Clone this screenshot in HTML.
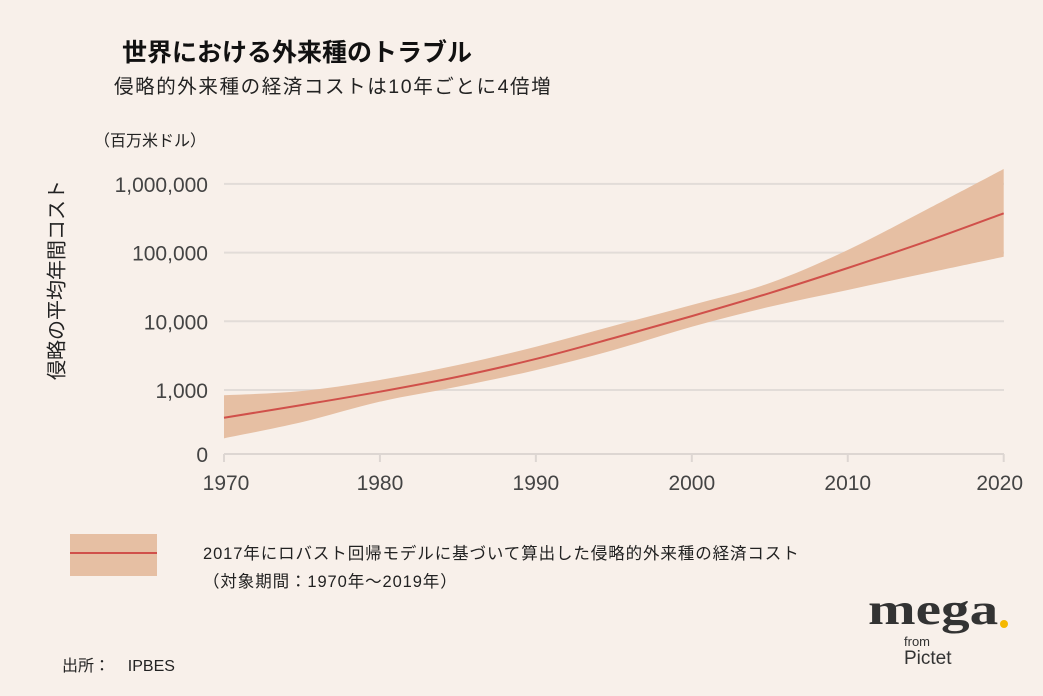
<!DOCTYPE html>
<html><head><meta charset="utf-8">
<style>
html,body{margin:0;padding:0;background:#f8f0ea;}
body{width:1043px;height:696px;position:relative;overflow:hidden;font-family:"Liberation Sans","Noto Sans CJK JP",sans-serif;color:#222;}
.t{position:absolute;white-space:nowrap;}
</style></head><body>
<div class="t" style="left:122px;top:33px;font-size:25px;font-weight:bold;color:#111;">世界における外来種のトラブル</div>
<div class="t" style="left:114px;top:70px;font-size:19.5px;letter-spacing:1.6px;color:#222;">侵略的外来種の経済コストは10年ごとに4倍増</div>
<div class="t" style="left:94px;top:127px;font-size:16px;color:#222;">（百万米ドル）</div>
<div class="t" style="left:55px;top:280px;font-size:20px;color:#222;transform:translate(-50%,-50%) rotate(-90deg);">侵略の平均年間コスト</div>
<svg id="chart" width="1043" height="696" style="position:absolute;left:0;top:0;"></svg>
<div style="position:absolute;left:70px;top:534px;width:87px;height:42px;background:#e6bfa3;"><div style="position:absolute;left:0;right:0;top:18px;height:2px;background:#d0504a;"></div></div>
<div class="t" style="left:203px;top:540px;font-size:16.5px;letter-spacing:0.9px;line-height:28px;color:#222;">2017年にロバスト回帰モデルに基づいて算出した侵略的外来種の経済コスト<br>（対象期間：1970年～2019年）</div>
<div class="t" style="left:62px;top:652px;font-size:16px;color:#222;">出所：&nbsp;&nbsp;&nbsp;&nbsp;IPBES</div>
<div style="position:absolute;left:868px;top:590px;width:150px;height:80px;">
<div class="t" style="left:0;top:-6px;font-family:'Liberation Serif',serif;font-weight:bold;font-size:44px;color:#333;transform:scaleX(1.3);transform-origin:left top;">mega</div>
<div style="position:absolute;left:132px;top:30px;width:8px;height:8px;border-radius:50%;background:#f5b800;"></div>
<div class="t" style="left:36px;top:44px;font-size:13px;color:#333;">from</div>
<div class="t" style="left:36px;top:58px;font-size:19px;color:#333;">Pictet</div>
</div>
<script>
const years=[1970,1975,1980,1985,1990,1995,2000,2005,2010,2015,2020];
const central=[395,605,945,1560,2830,5710,11900,25800,59700,144000,373000];
const upper=[838,967,1400,2310,4270,8630,17300,36100,109000,417000,1650000];
const lower=[198,340,676,1120,1950,3820,8340,16300,28600,50000,87100];
const yTickValues=[1000,10000,100000,1000000];
const yTickLabels=["1,000","10,000","100,000","1,000,000"];
const xTicks=[1970,1980,1990,2000,2010,2020];

const NS="http://www.w3.org/2000/svg";
const svg=document.getElementById('chart');
const x=yr=>224+(yr-1970)*(1003.7-224)/50;
const y=v=>390-68.7*(Math.log10(v)-3);
const axisY=454;
function mk(t,a){const e=document.createElementNS(NS,t);for(const k in a)e.setAttribute(k,a[k]);svg.appendChild(e);return e;}
function smooth(pts){let d="M"+pts[0][0]+","+pts[0][1];for(let i=0;i<pts.length-1;i++){const p0=pts[i-1]||pts[i],p1=pts[i],p2=pts[i+1],p3=pts[i+2]||p2;d+=" C"+(p1[0]+(p2[0]-p0[0])/6)+","+(p1[1]+(p2[1]-p0[1])/6)+" "+(p2[0]-(p3[0]-p1[0])/6)+","+(p2[1]-(p3[1]-p1[1])/6)+" "+p2[0]+","+p2[1];}return d;}
yTickValues.forEach((v,i)=>{
 const g=mk('line',{x1:224,x2:1004,y1:y(v),y2:y(v),stroke:'#e2dcd8','stroke-width':2});
 
 
 const t=mk('text',{x:208,y:y(v)+8,'text-anchor':'end','font-size':21,fill:'#444','font-family':'Liberation Sans, sans-serif'});
 t.textContent=yTickLabels[i];
 
 
});
const z=mk('text',{x:208,y:axisY+8,'text-anchor':'end','font-size':21,fill:'#444','font-family':'Liberation Sans, sans-serif'});z.textContent="0";


const ax=mk('line',{x1:224,x2:1004,y1:axisY,y2:axisY,stroke:'#ddd6d2','stroke-width':2});


xTicks.forEach(yr=>{
 const tk=mk('line',{x1:x(yr),x2:x(yr),y1:axisY,y2:axisY+8,stroke:'#ddd6d2','stroke-width':2});
 
 
 const t=mk('text',{x:x(yr)-(yr===2020?4:(yr===1970?-2:0)),y:490,'text-anchor':'middle','font-size':21,fill:'#444','font-family':'Liberation Sans, sans-serif'});
 t.textContent=yr;
 
 
});
const up=years.map((yr,i)=>[x(yr),y(upper[i])]);
const lo=years.map((yr,i)=>[x(yr),y(lower[i])]).reverse();
const bd=smooth(up)+" L"+lo[0][0]+","+lo[0][1]+smooth(lo).replace(/^M[^ C]+/,"")+" Z";
const band=mk('path',{d:bd,fill:'#e6bfa3'});


const line=mk('path',{d:smooth(years.map((yr,i)=>[x(yr),y(central[i])])),fill:'none',stroke:'#d0504a','stroke-width':2});


</script>
</body></html>
